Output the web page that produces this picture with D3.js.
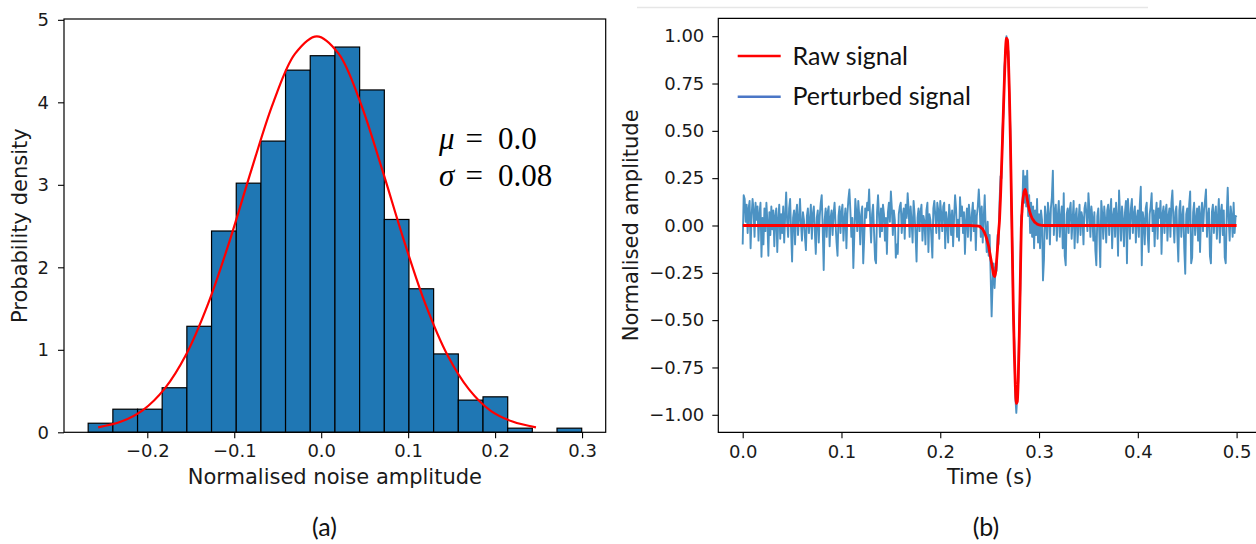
<!DOCTYPE html>
<html><head><meta charset="utf-8">
<script src="https://cdn.jsdelivr.net/npm/d3@7"></script>
<style>
body{margin:0;background:#fff;}
svg{display:block;}
</style></head><body>
<svg id="c" width="1256" height="544"></svg>
<script>
// ---------- (a) histogram data ----------
const binEdges = [-0.2680,-0.2396,-0.2112,-0.1829,-0.1545,-0.1261,-0.0977,-0.0693,-0.0410,-0.0126,
  0.0158,0.0442,0.0726,0.1009,0.1293,0.1577,0.1861,0.2145,0.2428,0.2712,0.2996];
const density = [0.11,0.28,0.28,0.54,1.285,2.44,3.02,3.53,4.39,4.565,4.67,4.15,2.58,1.74,0.95,0.39,0.43,0.05,0,0.05];
const pdfX = [-0.2565,-0.23,-0.205,-0.18,-0.155,-0.13,-0.105,-0.08,-0.055,-0.03,-0.005,0.02,0.045,0.07,0.095,0.12,0.145,0.17,0.195,0.22,0.247];
const pdfY = [0.06,0.13,0.27,0.53,0.95,1.56,2.33,3.19,4.00,4.59,4.80,4.59,4.00,3.19,2.33,1.55,0.94,0.52,0.26,0.13,0.06];
const histXTicks = [-0.2,-0.1,0,0.1,0.2,0.3];
const histYTicks = [0,1,2,3,4,5];
const statSymbols = ["μ","σ"];
const statValues = ["0.0","0.08"];

// ---------- (b) signal data ----------
const sigXTicks = [0,0.1,0.2,0.3,0.4,0.5];
const sigYTicks = [-1,-0.75,-0.5,-0.25,0,0.25,0.5,0.75,1];
const rawT = [0,0.230,0.236,0.240,0.241,0.242,0.243,0.244,0.245,0.246,0.247,0.248,0.249,0.250,0.251,0.252,0.253,0.254,0.255,0.256,0.257,0.258,0.259,0.260,0.261,0.262,0.263,0.264,0.265,0.266,0.267,0.268,0.269,0.270,0.271,0.272,0.273,0.274,0.275,0.276,0.277,0.278,0.279,0.280,0.281,0.282,0.283,0.284,0.285,0.286,0.287,0.288,0.289,0.290,0.291,0.292,0.293,0.294,0.295,0.296,0.297,0.298,0.299,0.300,0.305,0.5];
const rawV = [0,0,-0.002,-0.005,-0.01,-0.015,-0.02,-0.03,-0.04,-0.055,-0.07,-0.09,-0.11,-0.14,-0.17,-0.20,-0.23,-0.26,-0.27,-0.25,-0.19,-0.12,-0.04,0.03,0.15,0.30,0.45,0.62,0.78,0.92,0.99,0.98,0.88,0.70,0.45,0.15,-0.15,-0.45,-0.68,-0.85,-0.94,-0.93,-0.80,-0.58,-0.30,-0.02,0.10,0.15,0.18,0.19,0.17,0.14,0.11,0.085,0.065,0.05,0.038,0.03,0.022,0.016,0.012,0.008,0.005,0.003,0,0];
const perturbed = [
-0.10,0.16,0.14,0.02,0.11,-0.04,0.09,0.13,-0.12,0.05,0.14,0.08,-0.06,0.12,0.03,0.10,-0.08,0.06,0.12,-0.165,
0.04,-0.10,0.09,-0.03,0.12,0.02,-0.16,0.07,-0.05,0.10,-0.02,0.08,-0.11,0.05,0.09,-0.14,0.03,0.11,-0.07,0.06,
-0.04,0.10,-0.09,0.05,0.175,0.02,-0.06,0.09,0.14,-0.03,-0.19,0.04,0.08,-0.10,0.06,0.11,-0.05,0.03,0.14,0.01,
-0.08,0.07,0.03,-0.06,-0.13,0.05,0.09,-0.04,0.02,0.11,-0.07,0.06,0.10,-0.03,-0.15,0.04,0.08,-0.09,0.05,0.12,
0.16,-0.02,-0.235,0.03,0.09,-0.06,0.07,0.10,-0.11,0.04,0.08,-0.05,0.06,0.12,0.01,-0.09,-0.16,0.05,0.10,-0.04,
0.07,0.11,-0.08,0.03,0.09,-0.12,0.06,0.14,0.19,0.08,-0.06,0.04,-0.225,-0.05,0.14,0.07,-0.03,0.13,0.05,-0.10,
0.06,0.10,-0.20,-0.07,0.09,0.04,0.12,0.08,0.19,0.03,-0.09,0.06,0.11,-0.04,-0.18,-0.20,0.07,0.16,0.05,-0.06,
0.09,-0.03,0.11,0.06,-0.08,0.04,-0.15,0.07,0.12,0.02,0.18,0.09,-0.05,0.08,0.03,-0.17,-0.10,-0.15,0.06,0.10,
0.12,-0.04,0.05,0.09,-0.07,0.11,0.04,0.17,0.08,-0.06,0.10,0.02,-0.09,0.13,0.06,-0.05,-0.19,0.04,0.09,-0.03,
0.07,0.11,-0.08,0.05,0.02,-0.10,0.08,0.12,-0.14,0.06,0.03,-0.06,-0.17,0.09,0.13,0.05,-0.04,0.12,0.08,-0.07,
0.13,0.06,-0.03,0.10,0.12,-0.12,0.07,0.02,-0.09,0.11,0.05,-0.05,0.08,-0.11,0.04,0.16,0.09,-0.06,0.03,-0.08,
0.15,0.05,0.10,-0.04,0.07,-0.15,0.02,0.09,-0.06,0.11,0.04,-0.08,0.06,0.12,-0.03,0.08,-0.13,0.05,0.10,0.19,
0.09,-0.06,0.10,-0.09,0.04,0.16,-0.02,-0.14,0.02,-0.16,-0.05,-0.26,-0.48,-0.30,-0.20,-0.33,-0.22,-0.24,-0.05,-0.10,
0.12,0.26,0.25,0.50,0.60,0.84,0.90,1.00,0.94,0.92,0.66,0.50,0.10,-0.12,-0.50,-0.62,-0.90,-0.99,-0.90,-0.82,
-0.52,-0.34,0.05,0.07,0.29,0.12,0.26,0.10,0.29,0.05,0.16,-0.04,0.12,-0.06,0.10,-0.12,0.08,-0.05,0.14,-0.09,
0.06,
-0.12,0.08,0.03,-0.29,-0.18,0.10,0.04,-0.07,0.12,0.06,-0.10,0.09,0.15,0.29,-0.05,0.07,0.11,-0.08,0.05,0.13,
-0.06,0.04,0.10,-0.12,0.17,-0.16,-0.21,0.06,0.09,-0.04,0.08,0.12,-0.07,0.03,0.13,-0.12,0.05,0.09,-0.09,0.02,
0.11,-0.05,0.07,0.04,-0.10,0.09,0.12,0.06,-0.03,0.17,0.08,-0.06,0.10,0.04,-0.08,0.07,-0.13,-0.21,0.05,0.09,
-0.04,-0.22,0.13,0.06,-0.07,0.10,0.03,-0.09,0.08,0.11,-0.05,0.07,0.14,-0.12,0.05,0.09,-0.06,0.12,0.04,-0.16,
0.185,0.06,-0.08,0.10,0.03,-0.11,0.07,0.13,-0.20,0.14,0.05,-0.07,0.09,0.14,-0.04,0.06,0.10,-0.09,0.04,0.08,
-0.06,0.11,0.205,-0.21,0.07,0.03,-0.10,0.09,0.12,-0.05,-0.14,0.06,0.10,0.17,-0.03,0.08,-0.11,0.05,0.12,-0.07,
0.09,0.04,0.13,-0.15,0.06,0.10,-0.04,0.07,0.11,-0.08,0.05,0.09,-0.06,0.12,0.185,0.03,-0.09,0.07,0.10,-0.05,
-0.19,0.08,0.13,-0.06,0.04,0.10,-0.12,-0.255,0.06,0.09,-0.04,0.11,0.18,-0.20,-0.17,0.07,0.12,-0.05,0.03,0.09,
-0.08,0.10,-0.14,0.06,0.12,-0.03,0.08,0.13,0.19,-0.06,0.05,0.09,-0.16,-0.20,0.07,0.11,-0.04,0.06,0.10,-0.07,
0.04,0.14,-0.09,0.07,0.11,-0.05,0.08,-0.17,-0.20,0.06,0.20,0.03,-0.08,0.10,0.05,-0.06,0.12,-0.04,0.05,0.045];
const tStart = 0, tEnd = 0.5;
const legendLabels = ["Raw signal","Perturbed signal"];
const captions = ["(a)","(b)"];

// ---------- drawing ----------
const svg = d3.select("#c");
const SANS = "DejaVu Sans";
const TICKFS = 18, LABFS = 21;
const fmt1 = d3.format(".1f"), fmt2 = d3.format(".2f");

function styleAxis(g){
  g.select(".domain").remove();
  g.selectAll(".tick line").attr("stroke","#000").attr("stroke-width",1.1);
  g.selectAll(".tick text").attr("fill","#1a1a1a").attr("font-family",SANS).attr("font-size",TICKFS);
}

// ===== Panel (a) =====
const A = {l:64, r:605.7, t:19, b:432.3};
const xa = d3.scaleLinear().domain([-0.2958,0.3272]).range([A.l,A.r]);
const ya = d3.scaleLinear().domain([0,5.01]).range([A.b,A.t]);

const bars = density.map((d,i)=>({x0:binEdges[i],x1:binEdges[i+1],v:d}));
svg.append("g").selectAll("rect").data(bars.filter(d=>d.v>0)).join("rect")
  .attr("x",d=>xa(d.x0)).attr("width",d=>xa(d.x1)-xa(d.x0))
  .attr("y",d=>ya(d.v)).attr("height",d=>ya(0)-ya(d.v))
  .attr("fill","#1f77b4").attr("stroke","#000").attr("stroke-width",1.2);

svg.append("path").datum(pdfX.map((x,i)=>[x,pdfY[i]]))
  .attr("d",d3.line().x(d=>xa(d[0])).y(d=>ya(d[1])).curve(d3.curveCatmullRom))
  .attr("fill","none").attr("stroke","#ff0000").attr("stroke-width",2.2);

svg.append("rect").attr("x",A.l).attr("y",A.t).attr("width",A.r-A.l).attr("height",A.b-A.t)
  .attr("fill","none").attr("stroke","#000").attr("stroke-width",1.2);

svg.append("g").attr("transform",`translate(0,${A.b})`)
  .call(d3.axisBottom(xa).tickValues(histXTicks).tickFormat(fmt1).tickSize(6).tickPadding(6)).call(styleAxis);
svg.append("g").attr("transform",`translate(${A.l},0)`)
  .call(d3.axisLeft(ya).tickValues(histYTicks).tickFormat(d3.format("d")).tickSize(6).tickPadding(9)).call(styleAxis);

svg.append("text").attr("x",(A.l+A.r)/2).attr("y",484).attr("text-anchor","middle")
  .attr("font-family",SANS).attr("font-size",LABFS).attr("fill","#1a1a1a").text("Normalised noise amplitude");
svg.append("text").attr("transform",`translate(27,${(A.t+A.b)/2}) rotate(-90)`).attr("text-anchor","middle")
  .attr("font-family",SANS).attr("font-size",LABFS).attr("fill","#1a1a1a").text("Probability density");

// stats text
const statBase = [149,185.5];
statSymbols.forEach((s,i)=>{
  const t = svg.append("text").attr("y",statBase[i]).attr("font-family","Liberation Serif").attr("font-size",31).attr("fill","#000");
  t.append("tspan").attr("x",439).attr("font-style","italic").text(s);
  t.append("tspan").attr("x",465.5).text("=");
  t.append("tspan").attr("x",498).text(statValues[i]);
});

// ===== Panel (b) =====
const B = {l:718.3, r:1261, t:18.3, b:432.3};
const xb = d3.scaleLinear().domain([-0.0247,0.5247]).range([B.l,B.r]);
const yb = d3.scaleLinear().domain([-1.0925,1.0945]).range([B.b,B.t]);

// faint top rule
svg.append("line").attr("x1",637).attr("x2",1148).attr("y1",7.5).attr("y2",7.5)
  .attr("stroke","#e6e6e6").attr("stroke-width",1.5);

const dt = (tEnd-tStart)/(perturbed.length-1);
svg.append("path").datum(perturbed.map((v,i)=>[tStart+i*dt,v]))
  .attr("d",d3.line().x(d=>xb(d[0])).y(d=>yb(d[1])))
  .attr("fill","none").attr("stroke","#4c92c3").attr("stroke-width",1.9).attr("stroke-linejoin","round");

svg.append("path").datum(rawT.map((t,i)=>[t,rawV[i]]))
  .attr("d",d3.line().x(d=>xb(d[0])).y(d=>yb(d[1])).curve(d3.curveMonotoneX))
  .attr("fill","none").attr("stroke","#ff0000").attr("stroke-width",2.8).attr("stroke-linejoin","round");

// spines (left, top, bottom)
svg.append("path").attr("d",`M${B.r},${B.t}H${B.l}V${B.b}H${B.r}`)
  .attr("fill","none").attr("stroke","#000").attr("stroke-width",1.2);

svg.append("g").attr("transform",`translate(0,${B.b})`)
  .call(d3.axisBottom(xb).tickValues(sigXTicks).tickFormat(fmt1).tickSize(6).tickPadding(7)).call(styleAxis);
svg.append("g").attr("transform",`translate(${B.l},0)`)
  .call(d3.axisLeft(yb).tickValues(sigYTicks).tickFormat(fmt2).tickSize(6).tickPadding(8)).call(styleAxis);

svg.append("text").attr("x",(B.l+B.r)/2).attr("y",484).attr("text-anchor","middle")
  .attr("font-family",SANS).attr("font-size",LABFS).attr("fill","#1a1a1a").text("Time (s)");
svg.append("text").attr("transform",`translate(638,${(B.t+B.b)/2}) rotate(-90)`).attr("text-anchor","middle")
  .attr("font-family",SANS).attr("font-size",LABFS).attr("fill","#1a1a1a").text("Normalised amplitude");

// legend
const legColors = ["#ff0000","#4a76c6"];
const legY = [56,96.7];
legendLabels.forEach((lab,i)=>{
  svg.append("line").attr("x1",737.7).attr("x2",780.7).attr("y1",legY[i]).attr("y2",legY[i])
    .attr("stroke",legColors[i]).attr("stroke-width",2.5);
  svg.append("text").attr("x",792.5).attr("y",legY[i]+8.5).attr("font-family","Lato").attr("font-size",25)
    .attr("fill","#111").text(lab);
});

// captions
const capX = [324.5,986];
captions.forEach((c,i)=>{
  svg.append("text").attr("x",capX[i]).attr("y",535.5).attr("text-anchor","middle")
    .attr("font-family","Lato").attr("font-size",25).attr("fill","#111").text(c);
});
</script>
</body></html>
